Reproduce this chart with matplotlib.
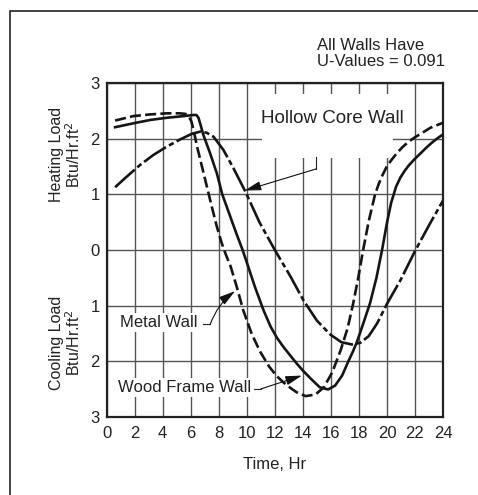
import numpy as np
import matplotlib.pyplot as plt
from matplotlib.patches import Rectangle

plt.rcParams['font.family'] = ['Liberation Sans', 'DejaVu Sans']

# load curves (heating positive, cooling negative)
hours_wood = [0.6, 1.9, 3.1, 4.3, 5.5, 6.2, 6.4, 6.55, 6.7, 6.9, 7.38, 7.86, 8.25, 8.75, 9.25, 9.7,
              10.1, 10.6, 11.2, 11.7, 12.15, 12.6, 13.1, 13.55, 14.0, 14.5, 15.2, 15.8, 16.3,
              16.8, 17.25, 17.55, 17.85, 18.3, 18.8, 19.25, 19.65, 20.0, 20.3, 20.65, 20.95,
              21.25, 21.55, 21.95, 22.4, 22.8, 23.2, 23.6, 24.0]
load_wood = [2.21, 2.28, 2.34, 2.38, 2.41, 2.43, 2.43, 2.38, 2.25, 2.07, 1.74, 1.38, 1.0, 0.65, 0.3, 0.0,
             -0.3, -0.68, -1.09, -1.38, -1.58, -1.74, -1.9, -2.04, -2.17, -2.3, -2.47, -2.51, -2.44,
             -2.26, -2.0, -1.84, -1.66, -1.33, -0.95, -0.5, 0.0, 0.49, 0.85, 1.14, 1.3,
             1.42, 1.52, 1.63, 1.74, 1.84, 1.93, 2.01, 2.08]

hours_metal = [0.6, 1.9, 3.1, 4.3, 5.2, 5.6, 5.85, 6.05, 6.2, 6.45, 6.8, 7.15, 7.5, 7.85, 8.2, 8.5,
               8.85, 9.3, 9.75, 10.35, 10.95, 11.6, 12.1, 12.6, 13.1, 13.55, 14.2, 14.9, 15.5,
               16.1, 16.7, 17.2, 17.6, 17.95, 18.3, 18.7, 19.15, 19.4, 19.65, 20.0, 20.35, 20.7,
               21.1, 21.55, 22.0, 22.4, 23.1, 24.0]
load_metal = [2.33, 2.41, 2.44, 2.46, 2.46, 2.45, 2.41, 2.31, 2.16, 1.86, 1.50, 1.14, 0.78, 0.43, 0.13, -0.08,
              -0.3, -0.68, -1.09, -1.51, -1.83, -2.1, -2.26, -2.38, -2.48, -2.56, -2.63, -2.60, -2.47,
              -2.2, -1.8, -1.4, -0.95, -0.5, 0.0, 0.52, 1.0, 1.18, 1.33, 1.51, 1.63, 1.74,
              1.85, 1.95, 2.03, 2.09, 2.2, 2.29]

hours_hollow = [0.6, 1.43, 2.38, 3.33, 4.29, 5.24, 6.07, 6.67, 7.14, 7.62, 8.33, 9.05, 9.9,
                10.9, 12.0, 13.1, 14.05, 15.0, 15.95, 16.75, 17.5, 18.1, 18.7, 19.3, 20.0,
                20.95, 22.0, 23.1, 24.0]
load_hollow = [1.13, 1.32, 1.53, 1.71, 1.86, 1.99, 2.09, 2.13, 2.11, 2.04, 1.80, 1.47, 1.05,
               0.5, 0.0, -0.47, -0.91, -1.27, -1.52, -1.66, -1.70, -1.67, -1.55, -1.32, -0.97,
               -0.55, -0.02, 0.49, 0.89]

xticks = list(range(0, 25, 2))
yticks = [3, 2, 1, 0, -1, -2, -3]
ytick_labels = ['3', '2', '1', '0', '1', '2', '3']

fig = plt.figure(figsize=(4.78, 4.95), dpi=100)
ax = fig.add_axes([0.2232, 0.1582, 0.7036, 0.6735])

line_kw = dict(color='#151515', lw=1.9, zorder=3, solid_joinstyle='round',
               dash_joinstyle='round')
ax.plot(hours_wood, load_wood, **line_kw)
ax.plot(hours_metal, load_metal, dashes=(4.2, 1.6), **line_kw)
ax.plot(hours_hollow, load_hollow, dashes=(10, 1.3, 2, 1.3), **line_kw)

ax.set_xlim(0, 24)
ax.set_ylim(-3, 3)
ax.set_xticks(xticks)
ax.set_yticks(yticks)
ax.set_yticklabels(ytick_labels)
ax.tick_params(length=0, labelsize=12, colors='#222')
ax.tick_params(axis='x', pad=7)
ax.tick_params(axis='y', pad=5)
ax.set_axisbelow(True)
ax.grid(True, color='#555555', lw=1.0)
for sp in ax.spines.values():
    sp.set_linewidth(1.6)
    sp.set_color('#222')

ax.set_xlabel('Time, Hr', fontsize=12, labelpad=11, color='#222')
ax.text(-0.122, 1.72, 'Heating Load\nBtu/Hr.ft$^2$', transform=ax.get_yaxis_transform(),
        rotation=90, ha='center', va='center', fontsize=11.5, color='#222', linespacing=1.0)
ax.text(-0.122, -1.67, 'Cooling Load\nBtu/Hr.ft$^2$', transform=ax.get_yaxis_transform(),
        rotation=90, ha='center', va='center', fontsize=11.5, color='#222', linespacing=1.0)

ax.text(15.0, 3.53, 'All Walls Have\nU-Values = 0.091', ha='left', va='center',
        fontsize=12, color='#222', linespacing=1.1, clip_on=False)

head = '-|>,head_length=1.0,head_width=0.28'

# white box behind the hollow core label that breaks the grid
ax.add_patch(Rectangle((11.1, 1.65), 9.3, 1.16, facecolor='white', edgecolor='none', zorder=1.5))
ax.text(16.1, 2.37, 'Hollow Core Wall', ha='center', va='center', fontsize=13.5,
        color='#222', zorder=1.6)
ax.plot([14.96, 14.96], [1.67, 1.46], color='#222', lw=0.8, zorder=2)
ax.annotate('', xy=(9.85, 1.07), xytext=(14.96, 1.46),
            arrowprops=dict(arrowstyle=head, color='#111', lw=0.8, shrinkA=0, shrinkB=0),
            zorder=2)

ax.text(3.75, -1.31, 'Metal Wall', ha='center', va='center', fontsize=12, color='#222',
        bbox=dict(facecolor='white', edgecolor='none', pad=1.5), zorder=1.6)
ax.plot([6.9, 7.4], [-1.33, -1.33], color='#222', lw=0.8, zorder=2)
ax.annotate('', xy=(9.16, -0.74), xytext=(7.4, -1.33),
            arrowprops=dict(arrowstyle=head, color='#111', lw=0.8, shrinkA=0, shrinkB=0,
                            connectionstyle='arc3,rad=-0.15'), zorder=2)

ax.text(5.55, -2.48, 'Wood Frame Wall', ha='center', va='center', fontsize=12, color='#222',
        bbox=dict(facecolor='white', edgecolor='none', pad=1.5), zorder=1.6)
ax.plot([10.5, 11.0], [-2.5, -2.5], color='#222', lw=0.8, zorder=2)
ax.annotate('', xy=(13.93, -2.26), xytext=(11.0, -2.5),
            arrowprops=dict(arrowstyle=head, color='#111', lw=0.8, shrinkA=0, shrinkB=0),
            zorder=2)

# frame around the figure, running off the right and bottom edges
fig.add_artist(Rectangle((10 / 478, -0.1), 1.2, 1.1 - 10.5 / 495, transform=fig.transFigure,
                         fill=False, edgecolor='#222', lw=1.2))

fig.savefig('out.png', dpi=100)
